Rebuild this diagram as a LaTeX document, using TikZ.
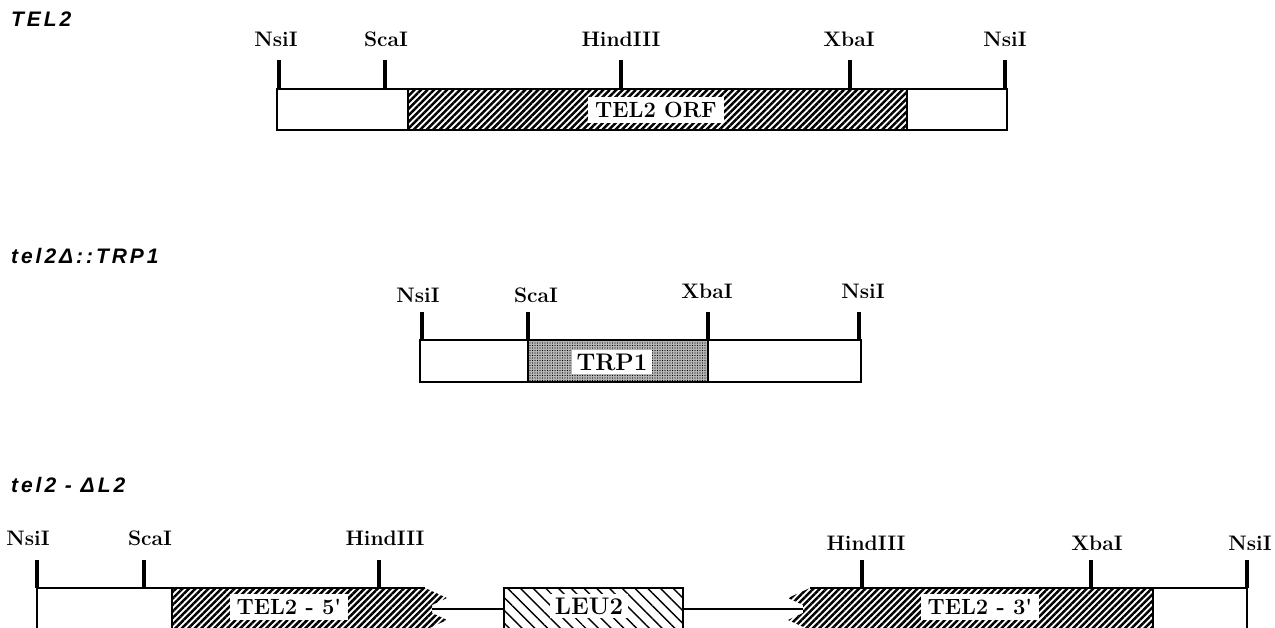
\documentclass[tikz,border=0pt]{standalone}
\usepackage{fontspec}
\newfontfamily\allelefont[LetterSpace=14]{Liberation Sans}
\usepackage{tikz}
\usetikzlibrary{patterns.meta, positioning}

\tikzset{
  cut/.style={line width=4pt},
  seg/.style={line width=1.8pt},
  thin seg/.style={line width=1.4pt},
  site/.style={font=\bfseries\fontsize{21}{21}\selectfont, inner sep=0pt},
  gene/.style={font=\bfseries\fontsize{22}{22}\selectfont, fill=white, inner xsep=7pt, inner ysep=5pt},
  marker/.style={gene, font=\bfseries\fontsize{24}{24}\selectfont, inner xsep=5pt, inner ysep=4pt},
  allele/.style={font=\allelefont\bfseries\itshape\fontsize{21}{21}\selectfont, anchor=west, inner sep=0pt},
  telhatch/.style={pattern={Lines[angle=45, distance=4.6pt, line width=2.5pt]}},
  leuhatch/.style={pattern={Lines[angle=-45, distance=9pt, line width=1.4pt]}},
  trpfill/.style={fill=black!28, postaction={pattern={Dots[distance=2.5pt, radius=0.55pt]}}}
}

\begin{document}
\begin{tikzpicture}[x=1pt, y=-1pt]
    \clip (0,0) rectangle (1275,628);

    % Wildtyp-Locus
    \node[allele] (wt) at (11,19) {TEL2};
    \draw[seg] (277,89) rectangle (1007,130);
    \draw[seg, telhatch] (408,89) rectangle (907,130);
    \node[gene] (orf) at (656,110) {TEL2 ORF};
    \coordinate (a1) at (279,89);
    \coordinate (a2) at (385,89);
    \coordinate (a3) at (621,89);
    \coordinate (a4) at (850,89);
    \coordinate (a5) at (1005,89);
    \foreach \c in {a1,a2,a3,a4,a5}
        \draw[cut] (\c) -- ++(0,-29);
    \node[site] (a1s) at (276,39) {NsiI};
    \node[site] (a2s) at (386,39) {ScaI};
    \node[site] (a3s) at (621,39) {HindIII};
    \node[site] (a4s) at (849,39) {XbaI};
    \node[site] (a5s) at (1005,39) {NsiI};

    % Deletion mit TRP1
    \node[allele] (del) at (11,256) {tel2Δ::TRP1};
    \draw[seg] (420,340) rectangle (861,382);
    \draw[seg, trpfill] (528,340) rectangle (708,382);
    \node[marker] (trp) at (612,362) {TRP1};
    \coordinate (b1) at (422,340);
    \coordinate (b2) at (528,340);
    \coordinate (b3) at (708,340);
    \coordinate (b4) at (859,340);
    \foreach \c in {b1,b2,b3,b4}
        \draw[cut] (\c) -- ++(0,-28);
    \node[site] (b1s) at (418,295) {NsiI};
    \node[site] (b2s) at (536,295) {ScaI};
    \node[site] (b3s) at (707,291) {XbaI};
    \node[site] (b4s) at (863,291) {NsiI};

    % Disruption mit LEU2
    \node[allele] (dis) at (11,485) {tel2 - ΔL2};
    \coordinate (c1) at (37,588);
    \coordinate (c2) at (144,588);
    \coordinate (c3) at (379,588);
    \coordinate (c4) at (862,588);
    \coordinate (c5) at (1091,588);
    \coordinate (c6) at (1247,588);
    \fill[telhatch] (172,588) -- (425,588) -- (447,598) -- (432,605) -- (432,613)
        -- (447,620) -- (425,630) -- (172,630) -- cycle;
    \fill[telhatch] (810,588) -- (1153,588) -- (1153,630) -- (810,630) -- (788,620)
        -- (803,613) -- (803,605) -- (788,598) -- cycle;
    \draw[thin seg] (c1) -- (425,588);
    \draw[thin seg] (810,588) -- (c6);
    \draw[thin seg] (c1) -- ++(0,50);
    \draw[thin seg] (c6) -- ++(0,50);
    \draw[thin seg] (172,588) -- ++(0,50);
    \draw[thin seg] (1153,588) -- ++(0,50);
    \draw[seg, leuhatch] (504,588) rectangle (683,632);
    \coordinate (leuL) at (504,609);
    \coordinate (leuR) at (683,609);
    \draw[thin seg] (432,609) -- (leuL);
    \draw[thin seg] (leuR) -- (803,609);
    \node[gene] (tel5) at (289,607) {TEL2 - 5\textquotesingle};
    \node[marker] (leu) at (589,606) {LEU2};
    \node[gene] (tel3) at (980,607) {TEL2 - 3\textquotesingle};
    \foreach \c in {c1,c2,c3,c4,c5,c6}
        \draw[cut] (\c) -- ++(0,-28);
    \node[site] (c1s) at (28,538) {NsiI};
    \node[site] (c2s) at (150,538) {ScaI};
    \node[site] (c3s) at (385,538) {HindIII};
    \node[site] (c4s) at (866,543) {HindIII};
    \node[site] (c5s) at (1097,543) {XbaI};
    \node[site] (c6s) at (1250,543) {NsiI};
\end{tikzpicture}
\end{document}
